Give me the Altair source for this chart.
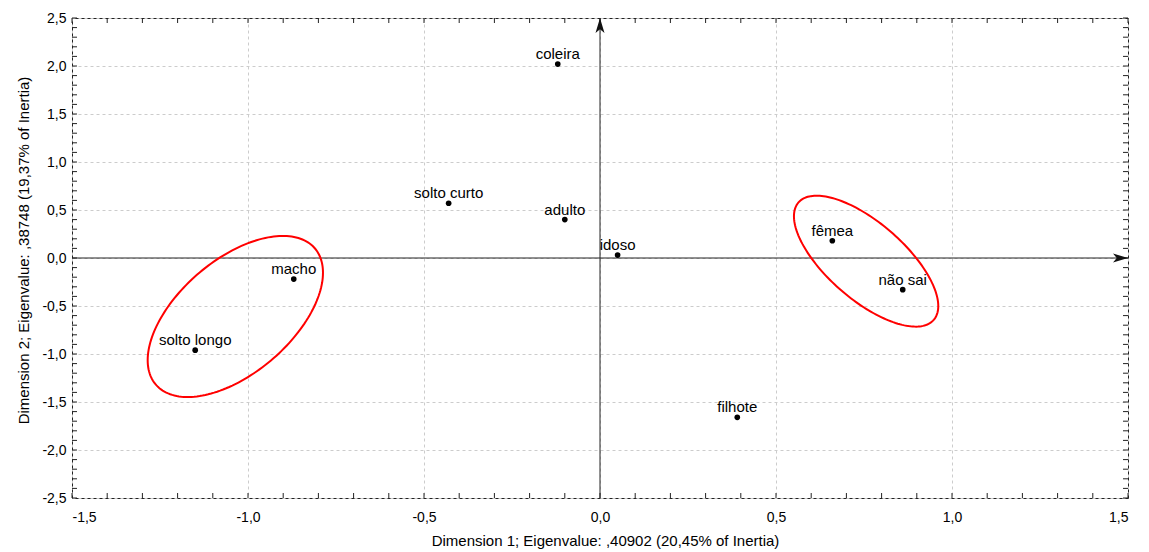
import altair as alt
import pandas as pd
import numpy as np

# ---- data ----
labels = ["coleira", "solto curto", "adulto", "idoso", "macho",
          "solto longo", "fêmea", "não sai", "filhote"]
dim1 = [-0.12, -0.43, -0.10, 0.05, -0.87, -1.15, 0.66, 0.86, 0.39]
dim2 = [2.02, 0.57, 0.40, 0.03, -0.22, -0.96, 0.18, -0.33, -1.66]

# ellipses: x = cx + rx*cos(t), y = cy + ry*cos(t - phase)
ell_id = ["left", "right"]
ell_cx = [-1.036, 0.756]
ell_cy = [-0.609, -0.033]
ell_rx = [0.249, 0.205]
ell_ry = [0.839, 0.682]
ell_phase = [57.1, 133.3]

x_major = [-1.5, -1.0, -0.5, 0.0, 0.5, 1.0, 1.5]
y_major = [-2.5, -2.0, -1.5, -1.0, -0.5, 0.0, 0.5, 1.0, 1.5, 2.0, 2.5]
x_minor = [round(i * 0.1, 1) for i in range(-15, 16)]
y_minor = [round(i * 0.1, 1) for i in range(-25, 26)]

x_title = "Dimension 1; Eigenvalue: ,40902 (20,45% of Inertia)"
y_title = "Dimension 2; Eigenvalue: ,38748 (19,37% of Inertia)"

W, H = 1056, 480
FONT = "Liberation Sans"

pts = pd.DataFrame({"label": labels, "x": dim1, "y": dim2})

rows = []
for i, e in enumerate(ell_id):
    ph = np.deg2rad(ell_phase[i])
    for k, t in enumerate(np.linspace(0, 2 * np.pi, 181)):
        rows.append({"id": e, "k": k,
                     "x": ell_cx[i] + ell_rx[i] * np.cos(t),
                     "y": ell_cy[i] + ell_ry[i] * np.cos(t - ph)})
ell = pd.DataFrame(rows)

label_expr = "replace(replace(format(datum.value, '.1f'), '.', ','), '\u2212', '-')"

xscale = alt.Scale(domain=[-1.5, 1.5], nice=False, zero=False)
yscale = alt.Scale(domain=[-2.5, 2.5], nice=False, zero=False)

xaxis = alt.Axis(values=x_major, labelExpr=label_expr, grid=True,
                 gridDash=[3, 3], gridColor="#cccccc", gridWidth=1,
                 ticks=False, tickSize=0, domain=False,
                 labelFont=FONT, labelFontSize=14, labelColor="black",
                 labelPadding=12, title=x_title, titleFont=FONT,
                 titleFontSize=15, titleFontWeight="normal",
                 titleColor="black", titlePadding=9, titleX=533)
yaxis = alt.Axis(values=y_major, labelExpr=label_expr, grid=True,
                 gridDash=[3, 3], gridColor="#cccccc", gridWidth=1,
                 ticks=False, tickSize=0, domain=False,
                 labelFont=FONT, labelFontSize=14, labelColor="black",
                 labelPadding=6, title=y_title, titleFont=FONT,
                 titleFontSize=15, titleFontWeight="normal",
                 titleColor="black", titlePadding=10, titleY=232)

base = alt.Chart(pts).mark_point(opacity=0).encode(
    x=alt.X("x:Q", scale=xscale, axis=xaxis),
    y=alt.Y("y:Q", scale=yscale, axis=yaxis),
)

xm = pd.DataFrame({"v": x_minor})
ym = pd.DataFrame({"v": y_minor})
tick_col = "#222222"
ticks_bottom = alt.Chart(xm).mark_rule(color=tick_col).encode(
    x=alt.X("v:Q", scale=xscale), y=alt.value(H), y2=alt.value(H - 5))
ticks_top = alt.Chart(xm).mark_rule(color=tick_col).encode(
    x=alt.X("v:Q", scale=xscale), y=alt.value(0), y2=alt.value(5))
ticks_left = alt.Chart(ym).mark_rule(color=tick_col).encode(
    y=alt.Y("v:Q", scale=yscale), x=alt.value(0), x2=alt.value(5))
ticks_right = alt.Chart(ym).mark_rule(color=tick_col).encode(
    y=alt.Y("v:Q", scale=yscale), x=alt.value(W), x2=alt.value(W - 5))

zero = pd.DataFrame({"v": [0.0]})
hline = alt.Chart(zero).mark_rule(color="#222222", strokeWidth=1).encode(
    y=alt.Y("v:Q", scale=yscale))
vline = alt.Chart(zero).mark_rule(color="#222222", strokeWidth=1).encode(
    x=alt.X("v:Q", scale=xscale))

arrow_r = "M0,0 L-2,-0.6 L-1.5,0 L-2,0.6 Z"
arrow_u = "M0,0 L-0.6,2 L0,1.5 L0.6,2 Z"
ar_df = pd.DataFrame({"x": [1.5], "y": [0.0]})
au_df = pd.DataFrame({"x": [0.0], "y": [2.5]})
arrow_right = alt.Chart(ar_df).mark_point(
    shape=arrow_r, filled=True, size=225, color="#111111", opacity=1,
    strokeWidth=0).encode(x=alt.X("x:Q", scale=xscale),
                          y=alt.Y("y:Q", scale=yscale))
arrow_up = alt.Chart(au_df).mark_point(
    shape=arrow_u, filled=True, size=225, color="#111111", opacity=1,
    strokeWidth=0).encode(x=alt.X("x:Q", scale=xscale),
                          y=alt.Y("y:Q", scale=yscale))

ellipses = alt.Chart(ell).mark_line(color="#ff0000", strokeWidth=2).encode(
    x=alt.X("x:Q", scale=xscale), y=alt.Y("y:Q", scale=yscale),
    detail="id:N", order="k:Q")

dots = alt.Chart(pts).mark_circle(size=32, color="black", opacity=1).encode(
    x=alt.X("x:Q", scale=xscale), y=alt.Y("y:Q", scale=yscale))

texts = alt.Chart(pts).mark_text(
    font=FONT, fontSize=15, color="black", baseline="alphabetic",
    align="center", dy=-5).encode(
    x=alt.X("x:Q", scale=xscale), y=alt.Y("y:Q", scale=yscale),
    text="label:N")

chart = alt.layer(
    base, ticks_bottom, ticks_top, ticks_left, ticks_right,
    hline, vline, arrow_right, arrow_up, ellipses, dots, texts
).properties(
    width=W, height=H,
    padding={"left": 72, "top": 18, "right": 21, "bottom": 54},
    autosize=alt.AutoSizeParams(type="none"),
    background="white",
).configure_view(stroke="#222222", strokeWidth=1)

chart.save("out.html", embed_options={"renderer": "svg", "actions": False})
